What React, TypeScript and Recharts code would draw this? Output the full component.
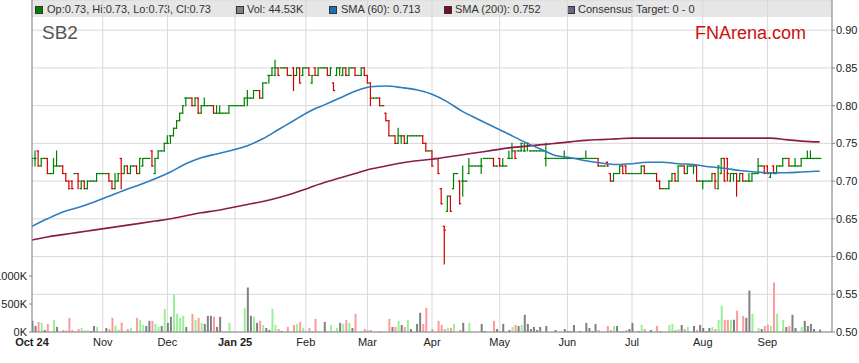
import { ComposedChart, Bar, Line, XAxis, YAxis, CartesianGrid, Cell } from 'recharts'

// daily prices in cents, one entry per weekday from 1 Oct 2024
const opens = [
  73, 73, 74, 72, 73, 73, 71, 71, 72, 72, 72, 71, 70, 70, 71, 71, 69, 70, 69, 70, 70, 70, 71, // Oct
  71, 71, 71, 70, 69, 70, 73, 71, 72, 71, 72, 72, 71, 72, 73, 73, 74, 71, 73, 74, 74, // Nov
  75, 76, 76, 77, 78, 79, 81, 81, 81, 80, 81, 79, 80, 80, 80, 80, 79, 79, 79, 79, 79, 80, // Dec
  80, 80, 80, 80, 81, 81, 81, 82, 82, 81, 83, 84, 84, 84, 85, 85, 85, 85, 84, 85, 84, 85, 84, // Jan
  85, 85, 83, 85, 84, 85, 85, 85, 84, 83, 84, 85, 84, 85, 84, 85, 85, 84, 84, 85, // Feb
  84, 83, 81, 81, 81, 80, 79, 78, 76, 76, 75, 76, 76, 75, 76, 76, 76, 76, 76, 75, 74, // Mar
  74, 73, 73, 69, 64, 66, 68, 69, 71, 70, 70, 70, 71, 72, 72, 72, 72, 73, 73, 73, 73, 72, // Apr
  73, 72, 72, 73, 73, 74, 74, 74, 74, 75, 74, 74, 74, 74, 74, 73, 73, 73, 73, 73, 73, 73, // May
  73, 73, 73, 73, 73, 73, 73, 73, 73, 73, 73, 72, 72, 72.5, 71, 70, 71, 71, 72, 72, 71, // Jun
  71, 71, 71, 71, 72, 71, 71, 71, 71, 70, 69, 69, 69, 70, 71, 70, 72, 72, 71, 72, 72, 72, 70, // Jul
  70, 70, 70, 70, 71, 69, 71, 73, 73, 70, 71, 71, 70, 71, 70, 70, 70, 71, 71, 72, 72, // Aug
  72, 70.5, 72, 71, 72, 72, 73, 73, 72, 72, 72, 72, 73, 73, 73, 73, 73, 73, // Sep
]
const highs = [
  73, 74, 74, 73, 73, 73, 71, 73, 74, 72, 72, 71, 70, 70, 71, 71, 70, 70, 70, 70, 70, 71, 71,
  71, 71, 71, 70, 71, 71, 73, 72, 72, 72, 72, 72, 73, 73, 73, 73, 74, 73, 74, 74, 75,
  76, 76, 77, 78, 79, 80, 81, 81, 81, 81, 81, 80, 81, 80, 80, 80, 80, 80, 79, 79, 80, 80,
  80, 80, 80, 81, 82, 81, 82, 82, 82, 83, 83, 84, 85, 86, 85, 85, 85, 85, 84, 85, 85, 85, 85,
  85, 85, 84, 85, 85, 85, 85, 85, 85, 83, 85, 85, 85, 85, 85, 85, 85, 84, 85, 85,
  84, 83, 81, 81, 81, 80, 79, 78, 76, 76, 77, 76, 76, 76, 76, 76, 76, 76, 76, 75, 74,
  74, 73, 73, 69, 64, 68, 68, 71, 71, 70, 72, 70, 73, 72, 72, 72, 73, 73, 73, 73, 73, 72,
  73, 73, 72, 74, 75, 74, 74, 75, 75, 75, 74, 74, 74, 74, 74, 75, 73, 73, 73, 73, 73, 74,
  73, 73, 73, 73, 73, 73, 74, 73, 73, 73, 73, 72, 72, 72.5, 71, 71, 71, 72, 72, 72, 71,
  71, 71, 71, 72, 72, 71, 71, 71, 71, 70, 69, 69, 70, 71, 71, 72, 72, 72, 72, 72, 72, 72, 70,
  70, 70, 70, 71, 71, 72, 73, 73, 73, 71, 71, 71, 71, 71, 70, 71, 71, 71, 73, 72, 72,
  72, 71, 72, 72, 72, 73, 73, 73, 72, 73, 72, 73, 73, 74, 74, 73, 73, 73,
]
const lows = [
  72, 72, 72, 72, 73, 71, 71, 71, 72, 72, 71, 70, 69, 69, 71, 69, 69, 69, 69, 70, 70, 70, 71,
  71, 71, 70, 69, 69, 70, 69, 71, 71, 71, 72, 71, 71, 72, 73, 73, 72, 71, 73, 74, 74,
  75, 75, 76, 77, 78, 79, 80, 81, 80, 80, 79, 79, 80, 80, 80, 79, 79, 79, 79, 79, 79, 80,
  80, 80, 80, 80, 80, 81, 81, 82, 81, 81, 83, 83, 84, 84, 84, 85, 85, 84, 84, 82, 84, 83, 84,
  85, 84, 83, 84, 84, 85, 85, 84, 84, 82, 84, 84, 84, 84, 84, 85, 84, 84, 84, 84,
  83, 80, 81, 81, 80, 80, 78, 76, 76, 75, 75, 75, 75, 75, 76, 76, 76, 76, 75, 74, 74,
  72, 73, 71, 67, 59, 66, 66, 69, 71, 67, 68, 70, 71, 72, 72, 72, 71, 73, 73, 73, 72, 72,
  72, 72, 72, 73, 73, 73, 74, 74, 74, 74, 74, 74, 74, 74, 74, 72, 73, 73, 73, 73, 73, 73,
  73, 73, 73, 73, 73, 73, 73, 73, 73, 73, 72, 72, 72, 72, 70, 70, 71, 71, 71, 71, 71,
  71, 71, 71, 71, 71, 71, 71, 71, 70, 69, 69, 69, 69, 70, 70, 70, 72, 71, 71, 72, 71, 70, 70,
  69, 70, 70, 70, 69, 69, 71, 70, 70, 70, 70, 68, 70, 70, 70, 70, 70, 71, 71, 72, 71,
  71, 70.5, 71, 71, 72, 72, 73, 72, 72, 72, 72, 72, 73, 73, 73, 73, 73, 73,
]
const closes = [
  73, 73, 72, 73, 73, 71, 71, 72, 72, 72, 71, 70, 69, 69, 71, 70, 70, 69, 70, 70, 70, 71, 71,
  71, 71, 70, 69, 70, 71, 71, 72, 71, 72, 72, 71, 73, 73, 73, 73, 72, 73, 74, 74, 75,
  75, 76, 77, 78, 79, 80, 81, 81, 80, 81, 79, 80, 80, 80, 80, 79, 79, 79, 79, 79, 80, 80,
  80, 80, 80, 81, 81, 81, 82, 82, 81, 83, 83, 84, 85, 85, 84, 85, 85, 84, 84, 84, 85, 83, 85,
  85, 84, 84, 84, 85, 85, 85, 84, 85, 82, 85, 85, 85, 84, 85, 85, 84, 84, 85, 84,
  83, 81, 81, 81, 80, 80, 78, 76, 76, 75, 76, 76, 75, 76, 76, 76, 76, 76, 75, 74, 74,
  72, 73, 71, 67, 63.5, 68, 66, 71, 71, 67, 70, 70, 72, 72, 72, 72, 72, 73, 73, 73, 72, 72,
  72, 72, 72, 73, 74, 73, 74, 75, 74, 75, 74, 74, 74, 74, 74, 73, 73, 73, 73, 73, 73, 73,
  73, 73, 73, 73, 73, 73, 73, 73, 73, 73, 72, 72, 72, 72, 70, 71, 71, 72, 71, 71, 71,
  71, 71, 71, 72, 71, 71, 71, 71, 70, 69, 69, 69, 70, 71, 70, 72, 72, 71, 72, 72, 72, 70, 70,
  70, 70, 70, 71, 70, 72, 73, 70, 71, 71, 71, 70, 71, 70, 70, 70, 71, 71, 72, 72, 71,
  71, 71, 71, 72, 72, 73, 73, 72, 72, 72, 72, 73, 73, 73, 73, 73, 73, 73,
]
// volume in thousands
const volumes = [
  199, 108, 180, 163, 36, 145, 0, 217, 90, 0, 36, 24, 253, 36, 0, 54, 72, 24, 36, 18, 108, 90, 0,
  0, 72, 54, 253, 114, 42, 169, 24, 54, 72, 0, 253, 217, 126, 108, 199, 199, 145, 90, 108, 415,
  163, 271, 668, 325, 253, 289, 90, 0, 325, 217, 253, 163, 145, 289, 289, 271, 90, 271, 0, 0, 163, 0,
  0, 0, 0, 433, 795, 289, 271, 163, 199, 126, 72, 36, 415, 126, 54, 18, 0, 90, 0, 126, 145, 180, 72,
  0, 72, 18, 235, 18, 0, 180, 18, 126, 18, 72, 163, 145, 217, 163, 72, 325, 0, 18, 54,
  36, 36, 0, 0, 18, 0, 0, 235, 90, 90, 199, 126, 90, 217, 54, 0, 145, 343, 145, 433, 0,
  54, 0, 199, 126, 54, 72, 72, 145, 0, 36, 163, 0, 163, 0, 0, 0, 145, 18, 0, 0, 199, 54,
  18, 145, 0, 36, 90, 126, 108, 126, 307, 145, 54, 90, 36, 90, 0, 108, 0, 0, 36, 0, 0, 54,
  18, 18, 126, 0, 18, 0, 163, 72, 18, 145, 36, 0, 0, 108, 36, 108, 108, 18, 18, 36, 54,
  163, 0, 18, 126, 54, 0, 36, 0, 108, 18, 0, 0, 126, 145, 36, 54, 126, 54, 90, 0, 108, 36, 126,
  72, 18, 72, 90, 54, 217, 470, 217, 217, 217, 217, 380, 18, 289, 253, 741, 325, 0, 72, 54, 108,
  126, 108, 885, 325, 0, 217, 90, 108, 307, 72, 0, 90, 199, 108, 145, 54, 0, 44.53,
]

// moving averages read every fifth weekday
const smaDays = [
  0, 5, 10, 15, 20, 25, 30, 35, 40, 45, 50, 55, 60, 65, 70, 75, 80, 85, 90, 95, 100, 105, 110, 115, 120, 125,
  130, 135, 140, 145, 150, 155, 160, 165, 170, 175, 180, 185, 190, 195, 200, 205, 210, 215, 220, 225, 230,
  235, 240, 245, 250, 255, 256,
]
const sma60 = [
  0.64, 0.65, 0.659, 0.665, 0.672, 0.68, 0.688, 0.695, 0.703, 0.712, 0.723, 0.731, 0.736, 0.741, 0.747, 0.756,
  0.768, 0.78, 0.792, 0.801, 0.81, 0.819, 0.825, 0.826, 0.824, 0.821, 0.815, 0.805, 0.792, 0.782, 0.772, 0.762,
  0.752, 0.743, 0.734, 0.731, 0.727, 0.724, 0.722, 0.723, 0.725, 0.725, 0.723, 0.722, 0.719, 0.717, 0.714,
  0.712, 0.711, 0.711, 0.712, 0.713, 0.713,
]
const sma200 = [
  0.622, 0.626, 0.629, 0.632, 0.635, 0.638, 0.641, 0.644, 0.647, 0.65, 0.654, 0.658, 0.661, 0.665, 0.669,
  0.673, 0.678, 0.684, 0.691, 0.698, 0.704, 0.71, 0.716, 0.72, 0.724, 0.727, 0.729, 0.732, 0.735, 0.738,
  0.741, 0.744, 0.746, 0.748, 0.75, 0.752, 0.754, 0.755, 0.756, 0.757, 0.757, 0.757, 0.757, 0.757, 0.757,
  0.757, 0.757, 0.757, 0.757, 0.755, 0.753, 0.752, 0.752,
]

const monthTicks = [0, 23, 44, 66, 89, 109, 130, 152, 174, 195, 218, 239]
const monthLabels = ['Oct 24', 'Nov', 'Dec', 'Jan 25', 'Feb', 'Mar', 'Apr', 'May', 'Jun', 'Jul', 'Aug', 'Sep']
const priceTicks = [0.5, 0.55, 0.6, 0.65, 0.7, 0.75, 0.8, 0.85, 0.9]
const volumeTicks = [0, 500, 1000]

const TOTAL_DAYS = 261
const PRICE_MIN = 0.5
const PRICE_MAX = 0.94
const VOL_MAX = 5930
const FONT = '"Liberation Sans", Arial, sans-serif'

const data = Array.from({ length: TOTAL_DAYS }, (_, i) => {
  const has = i < closes.length
  const k = smaDays.indexOf(i)
  return {
    i,
    o: has ? opens[i] / 100 : null,
    h: has ? highs[i] / 100 : null,
    l: has ? lows[i] / 100 : null,
    c: has ? closes[i] / 100 : null,
    v: has ? volumes[i] : null,
    sma60: k >= 0 ? sma60[k] : null,
    sma200: k >= 0 ? sma200[k] : null,
  }
})

function volColor(d: any) {
  if (d.c == null) return '#808080'
  if (d.c > d.o) return '#99f099'
  if (d.c < d.o) return '#ff9a9a'
  return '#808080'
}

// open tick left, close tick right, high-low line in the middle
function OhlcShape(props: any) {
  const { x, y, width, height, payload } = props
  if (payload == null || payload.h == null) return null
  const k = height / (payload.h - PRICE_MIN)
  const py = (v: number) => y + (payload.h - v) * k
  const cx = x + width / 2
  const color = payload.c >= payload.o ? '#008000' : '#d40000'
  return (
    <g stroke={color} strokeWidth={1.2} fill="none">
      {payload.h > payload.l && <line x1={cx} x2={cx} y1={py(payload.h) - 0.5} y2={py(payload.l) + 0.5} />}
      <line x1={x - 0.1} x2={cx + 0.5} y1={py(payload.o)} y2={py(payload.o)} />
      <line x1={cx - 0.5} x2={x + width + 0.1} y1={py(payload.c)} y2={py(payload.c)} />
    </g>
  )
}

function MonthTick({ x, y, payload }: any) {
  const label = monthLabels[monthTicks.indexOf(payload.value)]
  const bold = label.includes(' ')
  return (
    <text x={x} y={y} dy="0.71em" textAnchor="middle" fontSize={11} fontFamily={FONT}
      fontWeight={bold ? 'bold' : 'normal'} fill="#222">
      {label}
    </text>
  )
}

const legendItems = [
  { box: 35, text: 47, color: '#008000', label: 'Op:0.73, Hi:0.73, Lo:0.73, Cl:0.73' },
  { box: 236, text: 247, color: '#808080', label: 'Vol: 44.53K' },
  { box: 329, text: 341, color: '#1f6fb0', label: 'SMA (60): 0.713' },
  { box: 444, text: 455, color: '#7a0a2a', label: 'SMA (200): 0.752' },
  { box: 567, text: 578, color: '#66668a', label: 'Consensus Target: 0 - 0' },
]

export default function App() {
  return (
    <div style={{ position: 'absolute', left: 0, top: 0, width: 859, height: 363, background: '#fff', fontFamily: FONT }}>
      <div style={{ position: 'absolute', left: 31, top: 0, width: 801, height: 17, background: '#e6e6e6' }}>
        {legendItems.map((it) => (
          <div key={it.label}>
            <div style={{
              position: 'absolute', left: it.box - 31, top: 6, width: 6, height: 6,
              background: it.color, border: '1px solid #333',
            }} />
            <div style={{
              position: 'absolute', left: it.text - 31, top: 2, fontSize: 11, lineHeight: '14px',
              color: '#333', whiteSpace: 'nowrap',
            }}>{it.label}</div>
          </div>
        ))}
      </div>
      <div style={{ position: 'absolute', left: 0, top: 0 }}>
        <ComposedChart width={859} height={363} data={data} margin={{ top: 0, right: 0, left: 0, bottom: 0 }}>
          <CartesianGrid xAxisId="p" yAxisId="price" stroke="#d9d9d9" />
          <XAxis xAxisId="p" dataKey="i" type="number" domain={[0, TOTAL_DAYS - 1]} ticks={monthTicks}
            interval={0} height={31} tickLine={false} tickSize={4} tickMargin={2}
            axisLine={{ stroke: '#888' }} tick={<MonthTick />} allowDataOverflow />
          <XAxis xAxisId="v" dataKey="i" type="number" domain={[0, TOTAL_DAYS - 1]} hide allowDataOverflow />
          <YAxis yAxisId="price" orientation="right" domain={[PRICE_MIN, PRICE_MAX]} ticks={priceTicks}
            interval={0} width={27} tickSize={3} tickMargin={1} allowDataOverflow
            axisLine={{ stroke: '#888' }} tickLine={{ stroke: '#888' }}
            tick={{ fontSize: 11, fill: '#222', fontFamily: FONT }}
            tickFormatter={(v: number) => v.toFixed(2)} />
          <YAxis yAxisId="vol" orientation="left" domain={[0, VOL_MAX]} ticks={volumeTicks}
            interval={0} width={32} tickSize={3} tickMargin={2} allowDataOverflow
            axisLine={{ stroke: '#888' }} tickLine={{ stroke: '#888' }}
            tick={{ fontSize: 11, fill: '#222', fontFamily: FONT }}
            tickFormatter={(v: number) => `${v}K`} />
          <Bar xAxisId="v" yAxisId="vol" dataKey="v" barSize={2} isAnimationActive={false}>
            {data.map((d) => (
              <Cell key={d.i} fill={volColor(d)} />
            ))}
          </Bar>
          <Line xAxisId="p" yAxisId="price" dataKey="sma200" type="monotone" stroke="#8a1d48"
            strokeWidth={1.6} dot={false} connectNulls isAnimationActive={false} />
          <Line xAxisId="p" yAxisId="price" dataKey="sma60" type="monotone" stroke="#2d7cbd"
            strokeWidth={1.6} dot={false} connectNulls isAnimationActive={false} />
          <Bar xAxisId="p" yAxisId="price" dataKey="h" barSize={3} shape={OhlcShape} isAnimationActive={false} />
        </ComposedChart>
      </div>
      <svg width={859} height={363} style={{ position: 'absolute', left: 0, top: 0, pointerEvents: 'none' }}>
        <text x={42} y={39} fontSize={19} fill="#555" fontFamily={FONT}>SB2</text>
        <text x={695} y={39} fontSize={18} fill="#cc1111" fontFamily={FONT}>FNArena.com</text>
      </svg>
    </div>
  )
}
